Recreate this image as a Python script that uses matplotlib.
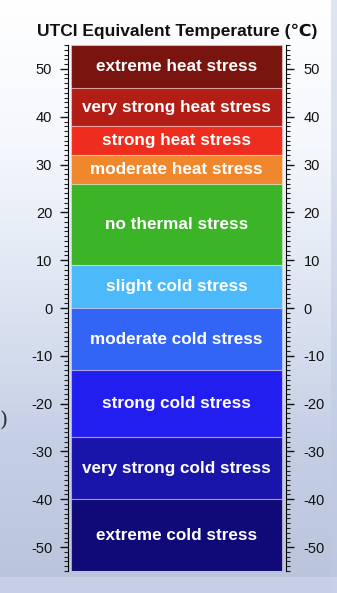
import numpy as np
import matplotlib
matplotlib.use("Agg")
import matplotlib.pyplot as plt
from matplotlib.colors import LinearSegmentedColormap

plt.rcParams['font.family'] = ['Liberation Sans', 'DejaVu Sans']
plt.rcParams['axes.unicode_minus'] = False

# UTCI stress categories (deg C bounds)
categories = ["extreme heat stress", "very strong heat stress", "strong heat stress",
              "moderate heat stress", "no thermal stress", "slight cold stress",
              "moderate cold stress", "strong cold stress", "very strong cold stress",
              "extreme cold stress"]
upper = [55, 46, 38, 32, 26, 9, 0, -13, -27, -40]
lower = [46, 38, 32, 26, 9, 0, -13, -27, -40, -55]
colors = ["#7a140e", "#b21e16", "#ee2d1e", "#f0872d", "#3cb428",
          "#4bb9fa", "#3264f5", "#231ef0", "#1914aa", "#0f0a78"]
ticks = [-50, -40, -30, -20, -10, 0, 10, 20, 30, 40, 50]

fig = plt.figure(figsize=(3.37, 5.93), dpi=100)

# sky-ish background
bg = fig.add_axes([0, 0, 1, 1], zorder=-10)
sky = LinearSegmentedColormap.from_list("sky", ["#ffffff", "#f4f7fc", "#dde5f2", "#c5cfe4", "#b9c4dc"])
bg.imshow(np.linspace(0, 1, 256).reshape(-1, 1), cmap=sky, aspect="auto", extent=[0, 1, 0, 1])
bg.axvspan(331 / 337, 1, color="#c0cbe3", alpha=0.5, lw=0)
bg.axhspan(0, 16 / 593, color="#d4dbeb", alpha=0.5, lw=0)
bg.set_xlim(0, 1)
bg.set_ylim(0, 1)
bg.axis("off")

ax = fig.add_axes([67.5 / 337, 22 / 593, 218 / 337, 526 / 593])
ax.patch.set_alpha(0)
for lo, hi, c in zip(lower, upper, colors):
    ax.bar(0.016, hi - lo, bottom=lo, width=0.97, align="edge", color=c,
           edgecolor=(1, 0.9, 0.9, 0.45), linewidth=0.8)
for lo, hi, name in zip(lower, upper, categories):
    ax.text(0.5, (lo + hi) / 2, name, ha="center", va="center", color="white",
            fontsize=12.3, fontweight="bold")

ax.set_xlim(0, 1)
ax.set_ylim(-55, 55)
ax.set_xticks([])
ax.spines["top"].set_visible(False)
ax.spines["bottom"].set_visible(False)
ax.set_yticks(ticks)
ax.set_yticks(np.arange(-55, 56, 1), minor=True)
ax.tick_params(axis="y", which="major", length=6, width=1, direction="out", pad=5,
               labelsize=10.5, colors="#111111")
ax.tick_params(axis="y", which="minor", length=3, width=0.8, direction="out", colors="#222222")

ax2 = ax.twinx()
ax2.set_ylim(-55, 55)
ax2.spines["top"].set_visible(False)
ax2.spines["bottom"].set_visible(False)
ax2.spines["left"].set_visible(False)
ax2.set_yticks(ticks)
ax2.set_yticks(np.arange(-55, 56, 1), minor=True)
ax2.tick_params(axis="y", which="major", length=6, width=1, direction="out", pad=7,
                labelsize=10.5, colors="#111111")
ax2.tick_params(axis="y", which="minor", length=3, width=0.8, direction="out", colors="#222222")
ax.spines["right"].set_visible(False)

fig.text(177 / 337, 1 - 31 / 593, "UTCI Equivalent Temperature (\u2103)", ha="center", va="center",
         fontsize=12.5, fontweight="bold", color="#111111")
fig.text(0.0, 1 - 420 / 593, ")", ha="left", va="center", fontsize=15, color="#333333",
         family="DejaVu Serif")

fig.savefig("out.png", dpi=100)
